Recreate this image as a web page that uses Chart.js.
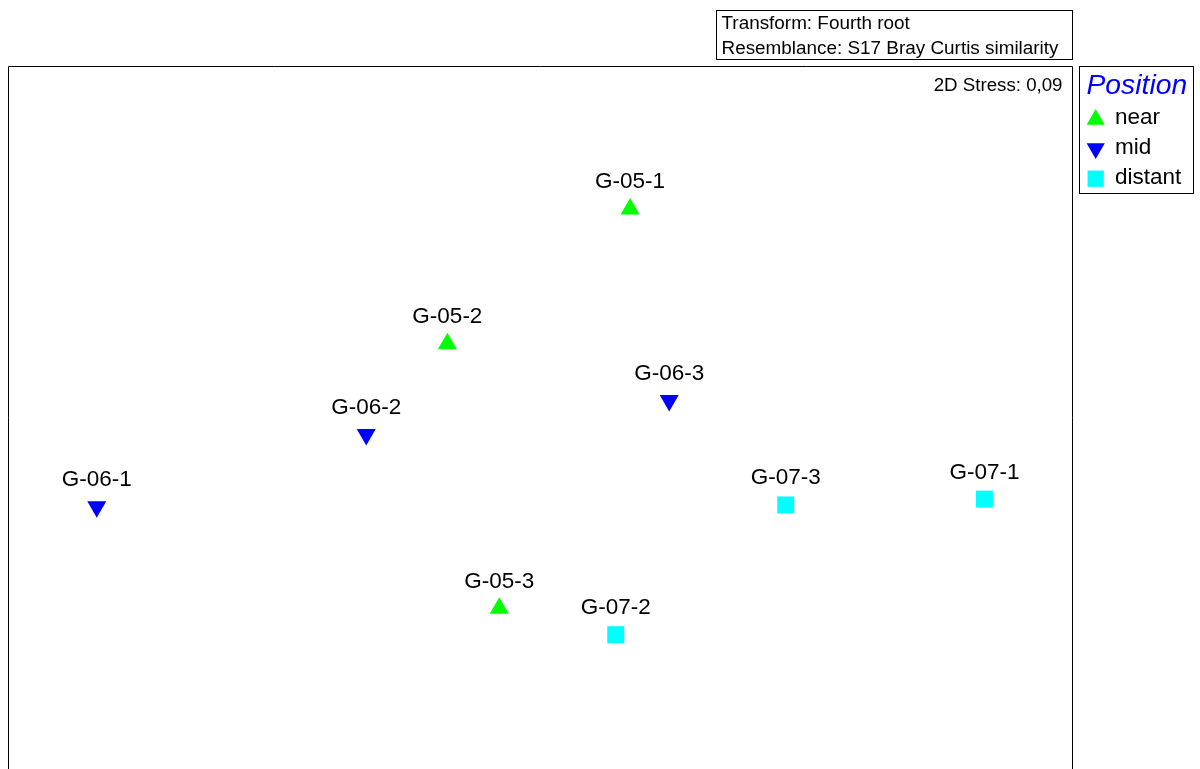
<!DOCTYPE html>
<html>
<head>
<meta charset="utf-8">
<script src="https://cdn.jsdelivr.net/npm/chart.js@4/dist/chart.umd.min.js"></script>
<style>
  html, body { margin: 0; padding: 0; background: #fff; overflow: hidden; }
  canvas { display: block; }
</style>
</head>
<body>
<canvas id="mds" width="1200" height="769"></canvas>
<script>
// nMDS ordination of the samples, grouped by position
const groups = ['near', 'mid', 'distant'];

const nearLabels = ['G-05-1', 'G-05-2', 'G-05-3'];
const nearX = [0.335, -0.352, -0.157];
const nearY = [0.666, 0.159, -0.835];

const midLabels = ['G-06-1', 'G-06-2', 'G-06-3'];
const midX = [-1.670, -0.657, 0.482];
const midY = [-0.454, -0.182, -0.054];

const distantLabels = ['G-07-1', 'G-07-2', 'G-07-3'];
const distantX = [1.667, 0.281, 0.920];
const distantY = [-0.425, -0.935, -0.447];

const transformNote = 'Transform: Fourth root';
const resemblanceNote = 'Resemblance: S17 Bray Curtis similarity';
const stressNote = '2D Stress: 0,09';
const legendTitle = 'Position';

const FONT = '"Liberation Sans", Arial, Helvetica, sans-serif';

function toPoints(xs, ys, labels) {
  return xs.map((x, i) => ({ x: x, y: ys[i], name: labels[i] }));
}

const styles = {
  near:    { color: '#00ff00', pointStyle: 'triangle', rotation: 0,   radius: 11 },
  mid:     { color: '#0000ff', pointStyle: 'triangle', rotation: 180, radius: 11 },
  distant: { color: '#00ffff', pointStyle: 'rect',     rotation: 0,   radius: 12 }
};

const seriesData = {
  near: toPoints(nearX, nearY, nearLabels),
  mid: toPoints(midX, midY, midLabels),
  distant: toPoints(distantX, distantY, distantLabels)
};

const datasets = groups.map(g => ({
  label: g,
  data: seriesData[g],
  backgroundColor: styles[g].color,
  borderColor: styles[g].color,
  pointStyle: styles[g].pointStyle,
  pointRotation: styles[g].rotation,
  pointRadius: styles[g].radius,
  pointHoverRadius: styles[g].radius,
  pointBorderWidth: 0,
  showLine: false
}));

// fallback marker painter if helpers are not exposed
function paintMarker(ctx, style, rotation, radius, x, y) {
  if (Chart.helpers && Chart.helpers.drawPoint) {
    Chart.helpers.drawPoint(ctx, { pointStyle: style, rotation: rotation, radius: radius, borderWidth: 0 }, x, y);
    return;
  }
  ctx.beginPath();
  if (style === 'rect') {
    const s = Math.SQRT1_2 * radius;
    ctx.rect(x - s, y - s, 2 * s, 2 * s);
  } else {
    const rad = rotation * Math.PI / 180;
    for (let k = 0; k < 3; k++) {
      const a = rad + k * 2 * Math.PI / 3;
      const px = x + Math.sin(a) * radius, py = y - Math.cos(a) * radius;
      if (k === 0) ctx.moveTo(px, py); else ctx.lineTo(px, py);
    }
    ctx.closePath();
  }
  ctx.fill();
}

const sampleLabels = {
  id: 'sampleLabels',
  afterDatasetsDraw(chart) {
    const ctx = chart.ctx;
    ctx.save();
    ctx.fillStyle = '#000';
    ctx.font = '22.5px ' + FONT;
    ctx.textAlign = 'center';
    ctx.textBaseline = 'alphabetic';
    chart.data.datasets.forEach((ds, di) => {
      const meta = chart.getDatasetMeta(di);
      meta.data.forEach((el, i) => {
        ctx.fillText(ds.data[i].name, el.x, el.y - 20.5);
      });
    });
    ctx.restore();
  }
};

const decorations = {
  id: 'decorations',
  afterDraw(chart) {
    const ctx = chart.ctx;
    const a = chart.chartArea;
    ctx.save();
    ctx.strokeStyle = '#000';
    ctx.lineWidth = 1;

    // plot frame (open at the bottom edge of the view)
    ctx.beginPath();
    ctx.moveTo(a.left - 0.5, chart.height);
    ctx.lineTo(a.left - 0.5, a.top - 0.5);
    ctx.lineTo(a.right - 0.5, a.top - 0.5);
    ctx.lineTo(a.right - 0.5, chart.height);
    ctx.stroke();

    // analysis note box
    ctx.strokeRect(716.5, 10.5, 356, 49);
    ctx.fillStyle = '#000';
    ctx.font = '18.9px ' + FONT;
    ctx.textAlign = 'left';
    ctx.textBaseline = 'alphabetic';
    ctx.fillText(transformNote, 721.5, 28.5);
    ctx.fillText(resemblanceNote, 721.5, 53.5);

    // stress value
    ctx.textAlign = 'right';
    ctx.font = '18.7px ' + FONT;
    ctx.fillText(stressNote, 1062.5, 90.5);

    // legend
    ctx.strokeRect(1079.5, 66.5, 114, 127);
    ctx.textAlign = 'left';
    ctx.fillStyle = '#0000ff';
    ctx.font = 'italic 28.3px ' + FONT;
    ctx.fillText(legendTitle, 1086.5, 93.5);

    const rowY = [124.3, 154.3, 184.3];
    const markerY = [119.6, 148.4, 178.7];
    ctx.font = '22.5px ' + FONT;
    groups.forEach((g, i) => {
      const st = styles[g];
      ctx.fillStyle = st.color;
      paintMarker(ctx, st.pointStyle, st.rotation, st.pointStyle === 'rect' ? 11.5 : 10.5, 1095.7, markerY[i]);
      ctx.fillStyle = '#000';
      ctx.fillText(g, 1115, rowY[i]);
    });
    ctx.restore();
  }
};

new Chart(document.getElementById('mds'), {
  type: 'scatter',
  data: { datasets: datasets },
  options: {
    responsive: false,
    devicePixelRatio: 1,
    animation: false,
    events: [],
    layout: { autoPadding: false, padding: { left: 9, right: 127, top: 67, bottom: 0 } },
    scales: {
      x: { type: 'linear', min: -2.0, max: 2.0, display: false },
      y: { type: 'linear', min: -1.44, max: 1.2, display: false }
    },
    plugins: {
      legend: { display: false },
      tooltip: { enabled: false }
    }
  },
  plugins: [sampleLabels, decorations]
});
</script>
</body>
</html>
